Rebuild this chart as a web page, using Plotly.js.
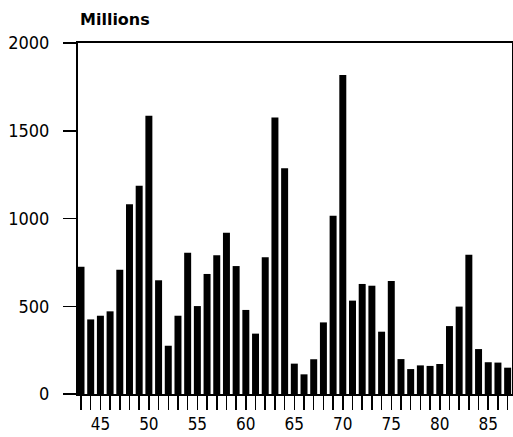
<!DOCTYPE html>
<html><head><meta charset="utf-8">
<script src="https://cdn.plot.ly/plotly-3.0.1.min.js"></script>
<style>html,body{margin:0;padding:0;background:#fff}#c{width:513px;height:437px}</style>
</head><body><div id="c"></div>
<script>
var years = [43,44,45,46,47,48,49,50,51,52,53,54,55,56,57,58,59,60,61,62,63,64,65,66,67,68,69,70,71,72,73,74,75,76,77,78,79,80,81,82,83,84,85,86,87];
var values = [725,425,446,471,708,1081,1187,1586,648,275,446,805,501,684,790,919,729,479,344,779,1576,1286,173,112,198,408,1016,1818,532,627,617,355,644,199,142,163,160,171,387,498,794,256,181,179,150];
var yTicks = [0,500,1000,1500,2000];
var xTickText = years.map(function(y){return y%5===0 ? String(y) : '';});
var fnt = "'DejaVu Sans Condensed','DejaVu Sans',sans-serif";

Plotly.newPlot('c', [{
  type:'bar', x:years, y:values, width:0.72,
  marker:{color:'#000', line:{width:0}}
}], {
  width:513, height:437,
  margin:{l:78, r:1, t:43, b:43},
  paper_bgcolor:'#fff', plot_bgcolor:'#fff',
  showlegend:false,
  xaxis:{range:[42.69,87.45], tickvals:years, ticktext:xTickText, ticks:'outside', ticklen:14, tickwidth:1.5, tickcolor:'#000',
    showgrid:false, zeroline:false, showline:true, linewidth:2, linecolor:'#000', mirror:true,
    tickfont:{family:fnt, size:17, color:'#000'}},
  yaxis:{range:[0,2000], tickvals:yTicks, ticks:'outside', ticklen:13, tickwidth:1.5, tickcolor:'#000',
    showgrid:false, zeroline:false, showline:true, linewidth:2, linecolor:'#000', mirror:true,
    ticklabelstandoff:10,
    tickfont:{family:fnt, size:18, color:'#000'}},
  annotations:[{text:'<b>Millions</b>', xref:'paper', yref:'paper', x:0, y:1, xanchor:'left', yanchor:'bottom', yshift:12, showarrow:false,
    font:{family:"'DejaVu Sans',sans-serif", size:16, color:'#000'}}]
}, {staticPlot:true});
</script></body></html>
